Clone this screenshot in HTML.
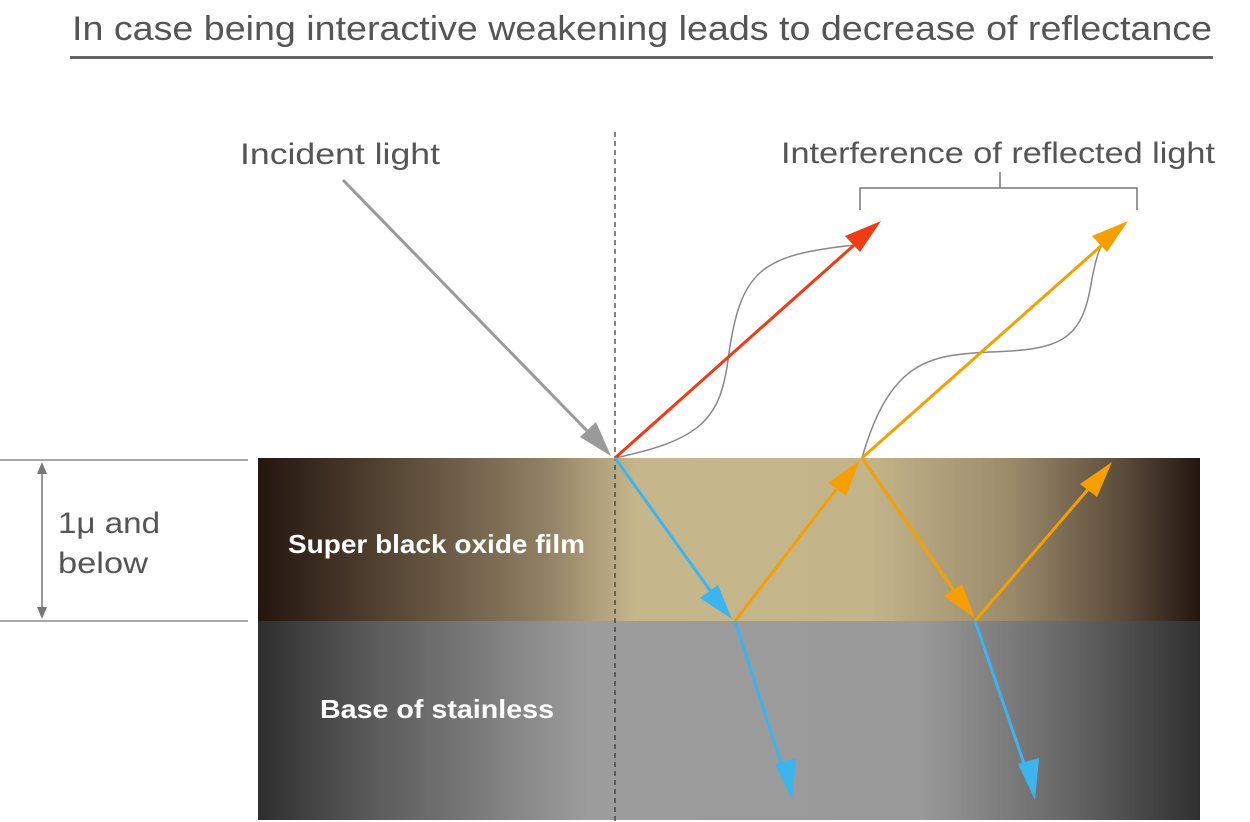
<!DOCTYPE html>
<html><head><meta charset="utf-8"><style>
html,body{margin:0;padding:0;background:#fff;}
svg{display:block;font-family:"Liberation Sans","DejaVu Sans",sans-serif;}
</style></head><body>
<svg width="1250" height="822" viewBox="0 0 1250 822" xmlns="http://www.w3.org/2000/svg">
<defs>
<linearGradient id="film" x1="258" x2="1200" y1="0" y2="0" gradientUnits="userSpaceOnUse">
<stop offset="0" stop-color="#241610"/>
<stop offset="0.12" stop-color="#4e3e2e"/>
<stop offset="0.3" stop-color="#8e7e62"/>
<stop offset="0.4" stop-color="#c6b68c"/>
<stop offset="0.65" stop-color="#c4b48a"/>
<stop offset="0.8" stop-color="#9a8a6a"/>
<stop offset="0.92" stop-color="#5a4a3a"/>
<stop offset="1" stop-color="#22160f"/>
</linearGradient>
<linearGradient id="base" x1="258" x2="1200" y1="0" y2="0" gradientUnits="userSpaceOnUse">
<stop offset="0" stop-color="#2e2e2e"/>
<stop offset="0.12" stop-color="#5a5a5a"/>
<stop offset="0.35" stop-color="#9c9c9c"/>
<stop offset="0.7" stop-color="#9a9a9a"/>
<stop offset="0.85" stop-color="#6a6a6a"/>
<stop offset="1" stop-color="#303030"/>
</linearGradient>
</defs>
<text x="72" y="40" font-size="34" fill="#555" textLength="1140" lengthAdjust="spacingAndGlyphs">In case being interactive weakening leads to decrease of reflectance</text>
<rect x="70" y="56" width="1143" height="3" fill="#666"/>

<rect x="258" y="458" width="942" height="163" fill="url(#film)"/>
<rect x="258" y="621" width="942" height="199" fill="url(#base)"/>
<text x="288" y="553" font-size="26" fill="#fff" font-weight="bold" textLength="297" lengthAdjust="spacingAndGlyphs">Super black oxide film</text>
<text x="320" y="718" font-size="26" fill="#fff" font-weight="bold" textLength="234" lengthAdjust="spacingAndGlyphs">Base of stainless</text>

<line x1="0" y1="460" x2="248" y2="460" stroke="#888" stroke-width="1.5"/>
<line x1="0" y1="621" x2="248" y2="621" stroke="#888" stroke-width="1.5"/>
<line x1="42" y1="470" x2="42" y2="611" stroke="#777" stroke-width="1.5"/>
<path d="M42,462 L37,474 L47,474 z M42,619 L37,607 L47,607 z" fill="#777"/>
<text x="58" y="533" font-size="30" fill="#555" textLength="102" lengthAdjust="spacingAndGlyphs">1μ and</text>
<text x="58" y="573" font-size="30" fill="#555" textLength="90" lengthAdjust="spacingAndGlyphs">below</text>

<line x1="615" y1="132" x2="615" y2="822" stroke="#333" stroke-width="1.2" stroke-dasharray="5,4"/>

<text x="240" y="164" font-size="30" fill="#555" textLength="200" lengthAdjust="spacingAndGlyphs">Incident light</text>
<text x="781" y="163" font-size="30" fill="#555" textLength="434" lengthAdjust="spacingAndGlyphs">Interference of reflected light</text>
<path d="M860,210 L860,188 L1137,188 L1137,210 M1000,188 L1000,172" fill="none" stroke="#777" stroke-width="1.5"/>

<line x1="343" y1="180" x2="596" y2="440" stroke="#9a9a9a" stroke-width="3"/>
<path d="M611,456 L580,437 L596,422 z" fill="#9a9a9a"/>

<path d="M615,458 C700,440 720,420 728,360 C740,270 760,255 855,245" fill="none" stroke="#888" stroke-width="1.5"/>
<path d="M862,458 C890,360 930,355 990,352 C1060,350 1080,340 1090,290 C1095,260 1100,245 1105,240" fill="none" stroke="#888" stroke-width="1.5"/>

<line x1="615" y1="458" x2="862" y2="238" stroke="#f03c14" stroke-width="3"/>
<path d="M881,221 L845,236 L860,252 z" fill="#f03c14"/>

<g stroke="#f5a000" stroke-width="3" fill="none">
<line x1="862" y1="458" x2="1110" y2="238"/>
<line x1="735" y1="621" x2="845" y2="478"/>
<line x1="862" y1="458" x2="962" y2="602"/>
<line x1="975" y1="621" x2="1096" y2="480"/>
</g>
<g fill="#f5a000">
<path d="M1128,221 L1092,236 L1107,252 z"/>
<path d="M860,460 L828,483 L846,496 z"/>
<path d="M975,618 L944,596 L962,584 z"/>
<path d="M1112,462 L1080,484 L1097,497 z"/>
</g>

<g stroke="#3cb4f0" stroke-width="3" fill="none">
<line x1="615" y1="458" x2="717" y2="600"/>
<line x1="735" y1="621" x2="786" y2="778"/>
<line x1="975" y1="621" x2="1029" y2="778"/>
</g>
<g fill="#3cb4f0">
<path d="M732,619 L700,598 L718,585 z"/>
<path d="M792,800 L775,764 L796,758 z"/>
<path d="M1035,800 L1018,764 L1039,758 z"/>
</g>
</svg>
</body></html>
